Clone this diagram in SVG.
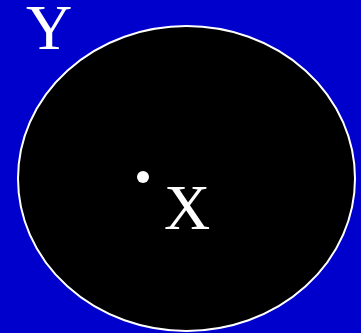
<svg xmlns="http://www.w3.org/2000/svg" width="361" height="333" viewBox="0 0 361 333">
<style>
.lbl{font-family:"Liberation Serif","Times New Roman",serif;font-size:64px;fill:#fff}
</style>
<rect width="361" height="333" fill="#0000CC"/>
<g id="Y">
<ellipse cx="186.5" cy="178.5" rx="168.5" ry="152.5" fill="#000" stroke="#fff" stroke-width="2"/>
<text class="lbl" x="26" y="49">Y</text>
</g>
<g id="X">
<circle cx="143" cy="177" r="6" fill="#fff"/>
<text class="lbl" x="164" y="229">X</text>
</g>
</svg>
